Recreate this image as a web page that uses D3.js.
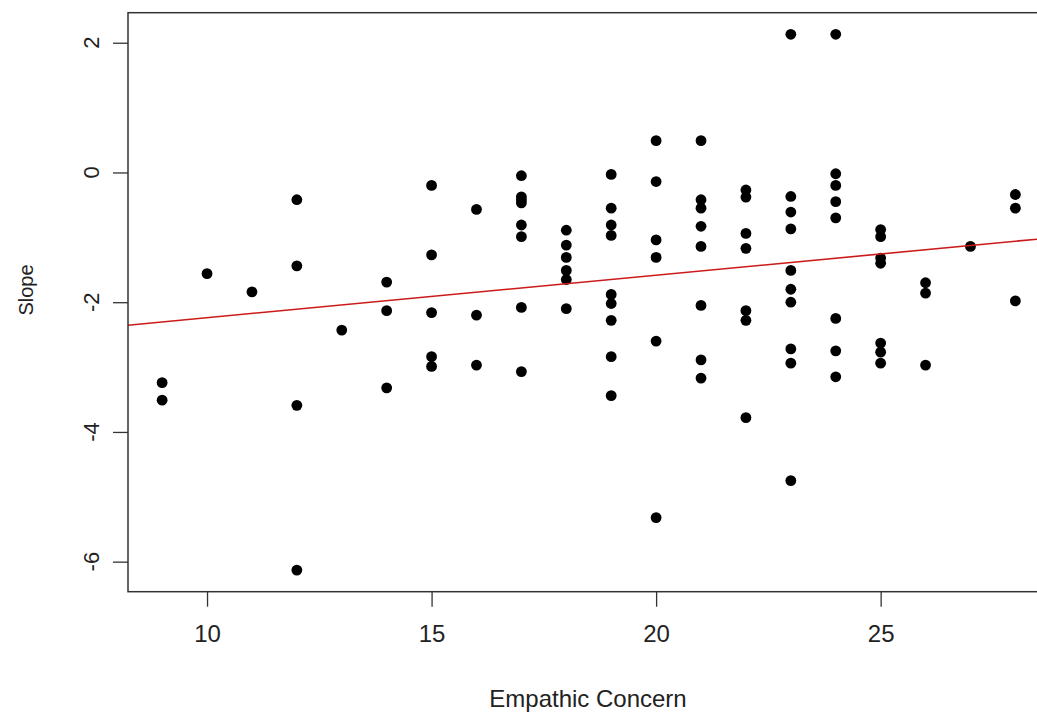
<!DOCTYPE html>
<html>
<head>
<meta charset="utf-8">
<script src="https://cdn.jsdelivr.net/npm/d3@7"></script>
<style>
	body { margin: 0; background: #fff; }
	svg { display: block; font-family: "Liberation Sans", Arial, sans-serif; }
	.tick text { fill: #222; }
</style>
</head>
<body>
<svg id="plot" width="1037" height="715"></svg>
<script>

// Empathic Concern score of each participant, and the matching slope
const EMPATHIC_CONCERN = [
	9, 9,
	10,
	11,
	12, 12, 12, 12,
	13,
	14, 14, 14,
	15, 15, 15, 15, 15,
	16, 16, 16,
	17, 17, 17, 17, 17, 17, 17, 17,
	18, 18, 18, 18, 18, 18,
	19, 19, 19, 19, 19, 19, 19, 19, 19,
	20, 20, 20, 20, 20, 20,
	21, 21, 21, 21, 21, 21, 21, 21,
	22, 22, 22, 22, 22, 22, 22,
	23, 23, 23, 23, 23, 23, 23, 23, 23, 23,
	24, 24, 24, 24, 24, 24, 24, 24,
	25, 25, 25, 25, 25, 25, 25,
	26, 26, 26,
	27,
	28, 28, 28
];
const SLOPE = [
	-3.24, -3.51,
	-1.56,
	-1.84,
	-0.42, -1.44, -3.59, -6.13,
	-2.43,
	-1.69, -2.13, -3.32,
	-0.20, -1.27, -2.16, -2.84, -2.99,
	-0.57, -2.20, -2.97,
	-0.05, -0.375, -0.42, -0.47, -0.81, -0.99, -2.08, -3.07,
	-0.89, -1.12, -1.31, -1.51, -1.65, -2.10,
	-0.03, -0.55, -0.81, -0.97, -1.88, -2.02, -2.28, -2.84, -3.44,
	0.49, -0.14, -1.04, -1.31, -2.60, -5.32,
	0.49, -0.42, -0.55, -0.83, -1.14, -2.05, -2.89, -3.17,
	-0.27, -0.38, -0.94, -1.17, -2.13, -2.28, -3.78,
	2.13, -0.37, -0.61, -0.87, -1.51, -1.80, -2.00, -2.72, -2.94, -4.75,
	2.13, -0.02, -0.20, -0.45, -0.70, -2.25, -2.75, -3.15,
	-0.88, -0.99, -1.32, -1.40, -2.63, -2.77, -2.94,
	-1.70, -1.86, -2.97,
	-1.14,
	-0.34, -0.55, -1.98
];

// fitted line: intercept, slope
const FIT = [-2.894, 0.0655];

const X_TICKS = [10, 15, 20, 25];
const Y_TICKS = [-6, -4, -2, 0, 2];
const X_LABEL = 'Empathic Concern';
const Y_LABEL = 'Slope';

function whenDocumentLoaded(action) {
	if (document.readyState === "loading") {
		document.addEventListener("DOMContentLoaded", action);
	} else {
		action();
	}
}

class ScatterPlot {
	constructor(container_str) {
		this.svg = d3.select('#' + container_str);

		const left = 128, right = 1049.5, top = 12.7, bottom = 591.7;

		// R style: data range padded by 4%
		let x_ext = d3.extent(EMPATHIC_CONCERN);
		let pad = (x_ext[1] - x_ext[0]) * 0.04;
		const x = d3.scaleLinear()
			.domain([x_ext[0] - pad, x_ext[1] + pad])
			.range([left, right]);
		const y = d3.scaleLinear()
			.domain([-6.463, 2.463])
			.range([bottom, top]);

		const data = EMPATHIC_CONCERN.map((ec, i) => ({ x: ec, y: SLOPE[i] }));

		// points
		this.svg.append('g')
			.selectAll('circle')
			.data(data)
			.enter().append('circle')
			.attr('cx', d => x(d.x))
			.attr('cy', d => y(d.y))
			.attr('r', 5.4)
			.attr('fill', '#000');

		// regression line across the whole plot region
		const xd = x.domain();
		this.svg.append('line')
			.attr('x1', x(xd[0])).attr('y1', y(FIT[0] + FIT[1] * xd[0]))
			.attr('x2', x(xd[1])).attr('y2', y(FIT[0] + FIT[1] * xd[1]))
			.attr('stroke', '#cc1a1a')
			.attr('stroke-width', 1.6);

		// box
		this.svg.append('rect')
			.attr('x', left).attr('y', top)
			.attr('width', right - left).attr('height', bottom - top)
			.attr('fill', 'none')
			.attr('stroke', '#333')
			.attr('stroke-width', 1.5);

		// x axis
		const gx = this.svg.append('g')
			.attr('transform', `translate(0,${bottom})`)
			.call(d3.axisBottom(x).tickValues(X_TICKS).tickSize(15).tickPadding(18));
		gx.select('.domain').remove();
		gx.selectAll('.tick line').attr('stroke', '#333').attr('stroke-width', 1.3);
		gx.selectAll('.tick text').attr('font-size', 24);

		// y axis, labels turned like R's default
		const gy = this.svg.append('g')
			.attr('transform', `translate(${left},0)`)
			.call(d3.axisLeft(y).tickValues(Y_TICKS).tickSize(15).tickFormat(''));
		gy.select('.domain').remove();
		gy.selectAll('.tick line').attr('stroke', '#333').attr('stroke-width', 1.3);

		this.svg.append('g')
			.selectAll('text')
			.data(Y_TICKS)
			.enter().append('text')
			.attr('transform', d => `translate(99,${y(d)}) rotate(-90)`)
			.attr('text-anchor', 'middle')
			.attr('font-size', 22)
			.attr('fill', '#222')
			.text(d => d);

		// axis titles
		this.svg.append('text')
			.attr('x', 588)
			.attr('y', 707)
			.attr('text-anchor', 'middle')
			.attr('font-size', 24)
			.attr('fill', '#222')
			.text(X_LABEL);

		this.svg.append('text')
			.attr('transform', `translate(33,290) rotate(-90)`)
			.attr('text-anchor', 'middle')
			.attr('font-size', 20)
			.attr('fill', '#222')
			.text(Y_LABEL);
	}
}

whenDocumentLoaded(() => {
	const plot = new ScatterPlot('plot');
});
</script>
</body>
</html>
